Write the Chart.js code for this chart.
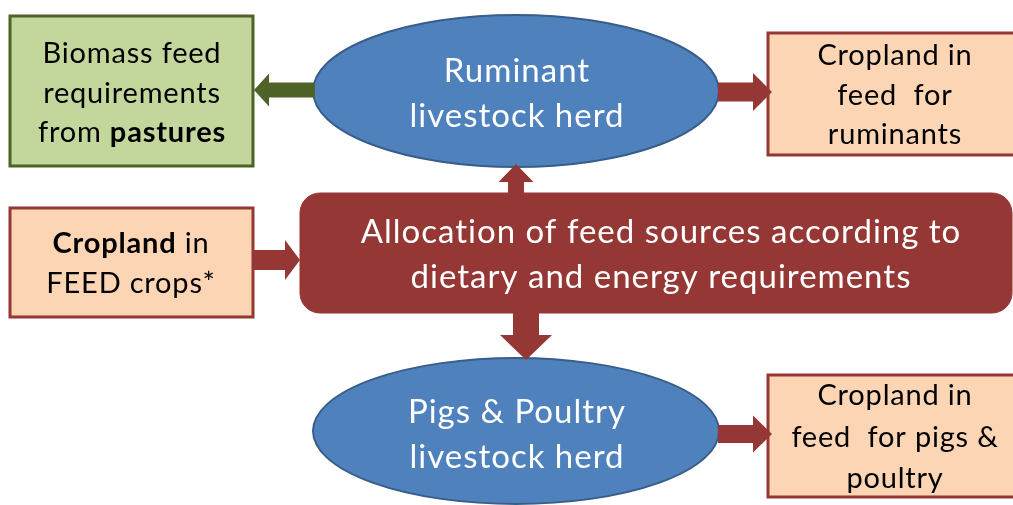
<!DOCTYPE html>
<html lang="en">
<head>
    <meta charset="UTF-8">
    <title>Feed allocation flow</title>
    <style>
        body {
            margin: 0;
            background: #ffffff;
        }

        .chart-wrap {
            width: 1013px;
            height: 505px;
        }
    </style>
    <script src="https://cdn.jsdelivr.net/npm/chart.js"></script>
</head>
<body>
<div class="chart-wrap">
    <canvas id="flowChart" width="1013" height="505"></canvas>
</div>

<script>
    // node ids and their text lines ([text, bold] segments per line)
    const nodeIds = ['pasture', 'ruminant', 'cropRum', 'feedCrops', 'alloc', 'pigs', 'cropPigs'];
    const nodeLines = [
        [[['Biomass feed', false]], [['requirements', false]], [['from ', false], ['pastures', true]]],
        [[['Ruminant', false]], [['livestock herd', false]]],
        [[['Cropland in', false]], [['feed  for', false]], [['ruminants', false]]],
        [[['Cropland', true], [' in', false]], [['FEED crops*', false]]],
        [[['Allocation of feed sources according to', false]], [['dietary and energy requirements', false]]],
        [[['Pigs & Poultry', false]], [['livestock herd', false]]],
        [[['Cropland in', false]], [['feed  for pigs &', false]], [['poultry', false]]]
    ];
    // links between nodes
    const linkFrom = ['ruminant', 'ruminant', 'feedCrops', 'alloc', 'alloc', 'pigs'];
    const linkTo = ['pasture', 'cropRum', 'alloc', 'ruminant', 'pigs', 'cropPigs'];

    // layout (in the 0..1013 / 0..505 space of the scales)
    const layout = {
        pasture:   { shape: 'rect', x0: 10, y0: 16, x1: 253, y1: 166, tx: 132, ty: 63, lh: 39.5, kind: 'green' },
        ruminant:  { shape: 'ellipse', cx: 516, cy: 91, rx: 203, ry: 76, tx: 517, ty: 82, lh: 45, kind: 'blue' },
        cropRum:   { shape: 'rect', x0: 768, y0: 33, x1: 1030, y1: 155, tx: 895, ty: 65, lh: 39.5, kind: 'peach' },
        feedCrops: { shape: 'rect', x0: 10, y0: 208, x1: 253, y1: 317, tx: 131, ty: 253, lh: 40, kind: 'peach' },
        alloc:     { shape: 'round', x0: 300, y0: 193, x1: 1012, y1: 313, tx: 661, ty: 243, lh: 45, kind: 'red' },
        pigs:      { shape: 'ellipse', cx: 516, cy: 431, rx: 203, ry: 73, tx: 517, ty: 423, lh: 45, kind: 'blue' },
        cropPigs:  { shape: 'rect', x0: 768, y0: 375, x1: 1030, y1: 497, tx: 895, ty: 405, lh: 41.5, kind: 'peach' }
    };
    // arrow geometry per link: start, tip, shaft width, head width, head length
    const arrows = [
        { x0: 315, y0: 90, x1: 254, y1: 90, shaft: 15, head: 33, len: 15, color: '#4F6228' },
        { x0: 718, y0: 92, x1: 772, y1: 92, shaft: 19, head: 38, len: 19, color: '#953735' },
        { x0: 253, y0: 260, x1: 300, y1: 260, shaft: 20, head: 40, len: 15, color: '#953735' },
        { x0: 516, y0: 194, x1: 516, y1: 164, shaft: 16, head: 35, len: 18, color: '#953735' },
        { x0: 526, y0: 312, x1: 526, y1: 360, shaft: 26, head: 52, len: 25, color: '#953735' },
        { x0: 718, y0: 434, x1: 772, y1: 434, shaft: 18, head: 37, len: 19, color: '#953735' }
    ];

    const styles = {
        green: { fill: '#C3D69B', stroke: '#4F6228', lw: 3, text: '#000000', size: 29, ls: 0.8 },
        peach: { fill: '#FCD5B5', stroke: '#953735', lw: 3, text: '#000000', size: 29, ls: 0.8 },
        blue:  { fill: '#4F81BD', stroke: '#385D8A', lw: 2, text: '#ffffff', size: 33, ls: 1 },
        red:   { fill: '#953735', stroke: '#953735', lw: 1, text: '#ffffff', size: 33, ls: 1 }
    };
    const fontFamily = 'Lato, "Open Sans", sans-serif';

    function font(size, bold) {
        return (bold ? 'bold ' : '') + size + 'px ' + fontFamily;
    }

    function drawLines(ctx, lines, x, y, lh, style) {
        ctx.fillStyle = style.text;
        ctx.textBaseline = 'alphabetic';
        ctx.textAlign = 'left';
        ctx.letterSpacing = style.ls + 'px';
        lines.forEach((segs, i) => {
            let total = 0;
            segs.forEach(s => {
                ctx.font = font(style.size, s[1]);
                total += ctx.measureText(s[0]).width;
            });
            let cx = x - total / 2;
            segs.forEach(s => {
                ctx.font = font(style.size, s[1]);
                ctx.fillText(s[0], cx, y + i * lh);
                cx += ctx.measureText(s[0]).width;
            });
        });
        ctx.letterSpacing = '0px';
    }

    function drawArrow(ctx, a, px, py) {
        const x0 = px(a.x0), y0 = py(a.y0), x1 = px(a.x1), y1 = py(a.y1);
        const dx = x1 - x0, dy = y1 - y0;
        const d = Math.hypot(dx, dy);
        const ux = dx / d, uy = dy / d;
        const nx = -uy, ny = ux;
        const bx = x1 - ux * a.len, by = y1 - uy * a.len;
        ctx.beginPath();
        ctx.moveTo(x0 + nx * a.shaft / 2, y0 + ny * a.shaft / 2);
        ctx.lineTo(bx + nx * a.shaft / 2, by + ny * a.shaft / 2);
        ctx.lineTo(bx + nx * a.head / 2, by + ny * a.head / 2);
        ctx.lineTo(x1, y1);
        ctx.lineTo(bx - nx * a.head / 2, by - ny * a.head / 2);
        ctx.lineTo(bx - nx * a.shaft / 2, by - ny * a.shaft / 2);
        ctx.lineTo(x0 - nx * a.shaft / 2, y0 - ny * a.shaft / 2);
        ctx.closePath();
        ctx.fillStyle = a.color;
        ctx.fill();
    }

    // plugin that draws the boxes, ellipses and arrows through the scales
    const flowPlugin = {
        id: 'flow',
        afterDatasetsDraw(chart) {
            const ctx = chart.ctx;
            const xs = chart.scales.x, ys = chart.scales.y;
            const px = v => xs.getPixelForValue(v);
            const py = v => ys.getPixelForValue(v);
            ctx.save();
            nodeIds.forEach((id, i) => {
                const n = layout[id];
                const st = styles[n.kind];
                ctx.beginPath();
                if (n.shape === 'ellipse') {
                    ctx.ellipse(px(n.cx), py(n.cy), px(n.cx + n.rx) - px(n.cx), py(n.cy + n.ry) - py(n.cy), 0, 0, Math.PI * 2);
                } else if (n.shape === 'round') {
                    ctx.roundRect(px(n.x0), py(n.y0), px(n.x1) - px(n.x0), py(n.y1) - py(n.y0), 20);
                } else {
                    ctx.rect(px(n.x0), py(n.y0), px(n.x1) - px(n.x0), py(n.y1) - py(n.y0));
                }
                ctx.fillStyle = st.fill;
                ctx.fill();
                ctx.lineWidth = st.lw;
                ctx.strokeStyle = st.stroke;
                ctx.stroke();
                drawLines(ctx, nodeLines[i], px(n.tx), py(n.ty), n.lh, st);
            });
            linkFrom.forEach((f, i) => drawArrow(ctx, arrows[i], px, py));
            ctx.restore();
        }
    };

    new Chart(document.getElementById('flowChart'), {
        type: 'scatter',
        data: {
            datasets: [{
                data: nodeIds.map(id => {
                    const n = layout[id];
                    return n.shape === 'ellipse' ? { x: n.cx, y: n.cy } : { x: (n.x0 + n.x1) / 2, y: (n.y0 + n.y1) / 2 };
                }),
                pointRadius: 0
            }]
        },
        options: {
            responsive: false,
            animation: false,
            layout: { padding: 0 },
            plugins: { legend: { display: false }, tooltip: { enabled: false } },
            scales: {
                x: { type: 'linear', min: 0, max: 1013, display: false },
                y: { type: 'linear', min: 0, max: 505, reverse: true, display: false }
            }
        },
        plugins: [flowPlugin]
    });
</script>
</body>
</html>
